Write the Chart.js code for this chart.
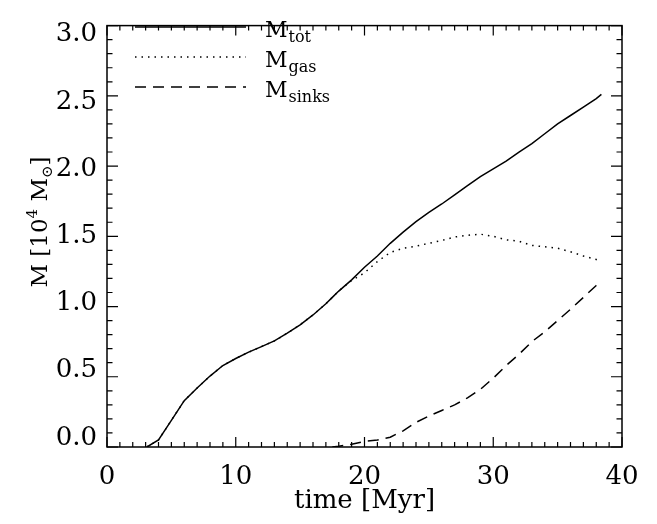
<!DOCTYPE html>
<html lang="en">
<head>
  <meta charset="UTF-8" />
  <title>Mass vs time</title>
  <script src="https://cdn.jsdelivr.net/npm/chart.js"></script>
  <style>
    html, body { margin: 0; padding: 0; background: #fff; }
  </style>
</head>
<body>
  <canvas id="massChart" width="657" height="524"></canvas>

  <script>
    // time in Myr, masses in 10^4 Msun
    const times  = [3.1, 4, 5, 6, 7, 8, 9, 10, 11, 12, 13, 14, 15, 16, 17, 17.5, 18, 19, 20, 21, 22, 23, 24, 25, 26, 27, 28, 29, 30, 31, 32, 33, 34, 35, 36, 37, 38, 38.4];
    const mTot   = [0, 0.05, 0.19, 0.33, 0.42, 0.505, 0.58, 0.63, 0.675, 0.715, 0.755, 0.81, 0.87, 0.94, 1.02, 1.065, 1.11, 1.19, 1.28, 1.36, 1.45, 1.53, 1.605, 1.67, 1.73, 1.795, 1.86, 1.925, 1.98, 2.035, 2.10, 2.16, 2.23, 2.30, 2.36, 2.42, 2.48, 2.51];
    const mGas   = [0, 0.05, 0.19, 0.33, 0.42, 0.505, 0.58, 0.63, 0.675, 0.715, 0.755, 0.81, 0.87, 0.94, 1.02, 1.065, 1.11, 1.185, 1.24, 1.32, 1.385, 1.415, 1.43, 1.45, 1.47, 1.495, 1.507, 1.515, 1.50, 1.475, 1.465, 1.435, 1.425, 1.415, 1.39, 1.36, 1.335, 1.32];
    const mSinks = [null, null, null, null, null, null, null, null, null, null, null, null, null, null, null, 0, 0.005, 0.02, 0.04, 0.05, 0.07, 0.115, 0.175, 0.22, 0.26, 0.30, 0.35, 0.41, 0.49, 0.58, 0.66, 0.75, 0.82, 0.90, 0.98, 1.065, 1.15, 1.18];

    const seriesNames = ['tot', 'gas', 'sinks'];
    const xTicks = [0, 10, 20, 30, 40];
    const yTicks = [0, 0.5, 1.0, 1.5, 2.0, 2.5, 3.0];

    const SERIF = '"DejaVu Serif", serif';
    Chart.defaults.color = '#000';
    Chart.defaults.font.family = SERIF;

    const pts = (vals) => times.map((t, i) => ({ x: t, y: vals[i] }));

    // box frame with inward ticks on all four sides
    const frameTicks = {
      id: 'frameTicks',
      afterDatasetsDraw(chart) {
        const { ctx, chartArea: a, scales: { x, y } } = chart;
        ctx.save();
        ctx.strokeStyle = '#000';
        ctx.lineWidth = 1.5;
        ctx.strokeRect(a.left, a.top, a.right - a.left, a.bottom - a.top);
        ctx.lineWidth = 1.2;
        ctx.beginPath();
        for (let i = 0; i <= 40; i++) {
          const px = x.getPixelForValue(i);
          const len = i % 10 === 0 ? 10 : 5;
          ctx.moveTo(px, a.bottom); ctx.lineTo(px, a.bottom - len);
          ctx.moveTo(px, a.top); ctx.lineTo(px, a.top + len);
        }
        for (let i = 0; i <= 30; i++) {
          const py = y.getPixelForValue(i / 10);
          const len = i % 5 === 0 ? 11 : 5.5;
          ctx.moveTo(a.left, py); ctx.lineTo(a.left + len, py);
          ctx.moveTo(a.right, py); ctx.lineTo(a.right - len, py);
        }
        ctx.stroke();
        ctx.restore();
      }
    };

    // legend and y title need sub/superscripts, so they are drawn here
    const labelsPlugin = {
      id: 'labelsPlugin',
      afterDraw(chart) {
        const ctx = chart.ctx;
        ctx.save();
        chart.data.datasets.forEach((ds, i) => {
          const ly = 27 + i * 30;
          ctx.strokeStyle = ds.borderColor;
          ctx.lineWidth = ds.borderWidth;
          ctx.setLineDash(ds.borderDash || []);
          ctx.beginPath();
          ctx.moveTo(135, ly);
          ctx.lineTo(246, ly);
          ctx.stroke();
          ctx.setLineDash([]);
          ctx.fillStyle = '#000';
          ctx.textBaseline = 'alphabetic';
          ctx.font = '22px ' + SERIF;
          ctx.fillText('M', 265, ly + 9.5);
          const w = ctx.measureText('M').width;
          ctx.font = '16px ' + SERIF;
          ctx.fillText(seriesNames[i], 265 + w + 1, ly + 14.5);
        });

        // y axis title: M [10^4 M_sun]
        const parts = [
          ['M [10', 23, 0],
          ['4', 15, -10],
          [' M', 23, 0],
          ['\u2299', 15, 5],
          [']', 23, 0]
        ];
        let total = 0;
        parts.forEach(p => { ctx.font = p[1] + 'px ' + SERIF; total += ctx.measureText(p[0]).width; });
        ctx.translate(47, 222);
        ctx.rotate(-Math.PI / 2);
        let cx = -total / 2;
        parts.forEach(p => {
          ctx.font = p[1] + 'px ' + SERIF;
          ctx.fillText(p[0], cx, p[2]);
          cx += ctx.measureText(p[0]).width;
        });
        ctx.restore();
      }
    };

    new Chart(document.getElementById('massChart'), {
      type: 'line',
      data: {
        datasets: [
          { label: 'M_tot', data: pts(mTot), borderColor: '#000', borderWidth: 1.5, borderDash: [] },
          { label: 'M_gas', data: pts(mGas), borderColor: '#000', borderWidth: 1.5, borderDash: [1.5, 5] },
          { label: 'M_sinks', data: pts(mSinks), borderColor: '#000', borderWidth: 1.5, borderDash: [11, 7] }
        ]
      },
      options: {
        responsive: false,
        animation: false,
        events: [],
        layout: { padding: { top: 5, right: 35, left: 0, bottom: 0 } },
        elements: { point: { radius: 0 }, line: { tension: 0, fill: false } },
        plugins: { legend: { display: false }, tooltip: { enabled: false } },
        scales: {
          x: {
            type: 'linear', min: 0, max: 40,
            grid: { display: false, drawTicks: false },
            border: { display: false },
            afterBuildTicks: (s) => { s.ticks = xTicks.map(v => ({ value: v })); },
            ticks: { font: { size: 26 }, padding: 15, maxRotation: 0 },
            title: { display: true, text: 'time [Myr]', font: { size: 26 }, padding: { top: 0, bottom: 7 } },
            afterFit: (s) => { s.height = 77; }
          },
          y: {
            type: 'linear', min: 0, max: 3.0, display: false
          },
          // label-only axis: the plot's text is set slightly tighter than its ticks
          yl: {
            type: 'linear', position: 'left', min: -0.0675, max: 3.0675,
            grid: { display: false, drawTicks: false },
            border: { display: false },
            afterBuildTicks: (s) => { s.ticks = yTicks.map(v => ({ value: v })); },
            ticks: { font: { size: 26 }, padding: 10, callback: (v) => Number(v).toFixed(1) },
            afterFit: (s) => { s.width = 107; }
          }
        }
      },
      plugins: [frameTicks, labelsPlugin]
    });
  </script>
</body>
</html>
